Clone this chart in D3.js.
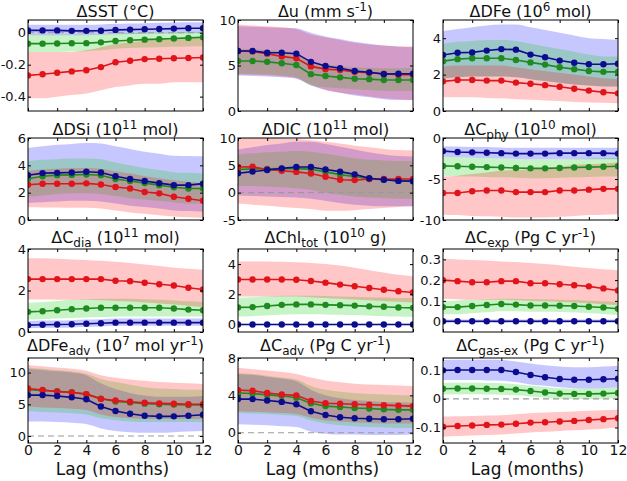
<!DOCTYPE html>
<html><head><meta charset="utf-8">
<script src="https://cdn.jsdelivr.net/npm/d3@7/dist/d3.min.js"></script>
<style>body{margin:0;background:#fff}svg{display:block;font-family:"DejaVu Sans",sans-serif}</style>
</head><body><svg id="c" width="627" height="481"></svg>
<script>
const lags = [0,1,2,3,4,5,6,7,8,9,10,11,12];
const xTicks = [0,2,4,6,8,10,12];

// ---- Panel 1: dSST
const sstB   = [0.015,0.015,0.015,0.012,0.012,0.013,0.018,0.02,0.022,0.024,0.026,0.028,0.028];
const sstBlo = [-0.015,-0.015,-0.015,-0.015,-0.015,-0.013,-0.01,-0.008,-0.006,-0.005,-0.004,-0.003,-0.003];
const sstBhi = [0.05,0.05,0.05,0.05,0.05,0.052,0.056,0.058,0.06,0.062,0.064,0.066,0.066];
const sstG   = [-0.068,-0.068,-0.067,-0.066,-0.065,-0.06,-0.052,-0.047,-0.043,-0.04,-0.036,-0.032,-0.028];
const sstGlo = [-0.12,-0.12,-0.12,-0.118,-0.116,-0.11,-0.1,-0.096,-0.093,-0.09,-0.088,-0.086,-0.085];
const sstGhi = [-0.012,-0.012,-0.012,-0.012,-0.012,-0.01,-0.005,-0.002,0,0.002,0.004,0.006,0.008];
const sstR   = [-0.267,-0.26,-0.25,-0.242,-0.235,-0.215,-0.185,-0.175,-0.165,-0.163,-0.16,-0.158,-0.155];
const sstRlo = [-0.41,-0.41,-0.40,-0.39,-0.38,-0.36,-0.34,-0.33,-0.32,-0.32,-0.31,-0.31,-0.31];
const sstRhi = [-0.12,-0.12,-0.12,-0.12,-0.11,-0.09,-0.07,-0.06,-0.05,-0.045,-0.04,-0.035,-0.03];

// ---- Panel 2: du
const uB   = [6.6,6.6,6.4,6.4,6.3,5.4,4.95,4.7,4.4,4.25,4.05,4.1,4.1];
const uBlo = [3.9,3.85,3.8,3.7,3.55,2.8,2.3,2.0,1.7,1.5,1.3,1.2,1.2];
const uBhi = [9.3,9.25,9.2,9.15,9.1,8.6,8.2,7.9,7.6,7.4,7.2,7.1,7.0];
const uG   = [5.5,5.5,5.4,5.25,5.05,4.05,3.85,3.7,3.55,3.5,3.4,3.4,3.4];
const uGlo = [4.1,4.1,4.0,3.9,3.7,2.8,2.6,2.5,2.4,2.3,2.2,2.2,2.2];
const uGhi = [6.8,6.8,6.7,6.6,6.4,5.4,5.1,4.95,4.8,4.75,4.7,4.7,4.7];
const uR   = [6.6,6.55,6.3,6.0,5.8,4.9,4.6,4.5,4.3,4.2,4.1,4.0,4.0];
const uRlo = [4.0,3.95,3.9,3.8,3.6,2.9,2.3,2.0,1.8,1.6,1.4,1.3,1.2];
const uRhi = [9.5,9.4,9.3,9.2,9.0,8.4,8.1,7.8,7.5,7.3,7.2,7.1,7.1];

// ---- Panel 3: dDFe
const dfeB   = [3.08,3.2,3.22,3.32,3.4,3.37,3.1,2.95,2.77,2.65,2.57,2.57,2.6];
const dfeBlo = [1.8,1.85,1.9,1.9,1.9,1.85,1.75,1.65,1.55,1.45,1.4,1.35,1.35];
const dfeBhi = [4.4,4.5,4.6,4.7,4.75,4.75,4.6,4.45,4.3,4.15,4.0,3.95,3.9];
const dfeG   = [2.74,2.85,2.9,2.9,2.9,2.8,2.67,2.55,2.4,2.3,2.2,2.15,2.15];
const dfeGlo = [1.75,1.85,1.9,1.9,1.9,1.85,1.75,1.65,1.55,1.45,1.4,1.35,1.35];
const dfeGhi = [3.7,3.8,3.85,3.9,3.9,3.85,3.7,3.55,3.4,3.25,3.1,3.0,3.0];
const dfeR   = [1.63,1.7,1.7,1.67,1.67,1.56,1.5,1.42,1.33,1.22,1.12,1.03,0.97];
const dfeRlo = [0.75,0.75,0.75,0.72,0.7,0.65,0.62,0.58,0.55,0.5,0.47,0.45,0.42];
const dfeRhi = [2.45,2.5,2.5,2.5,2.5,2.4,2.3,2.2,2.1,2.0,1.9,1.8,1.75];

// ---- Panel 4: dDSi
const dsiB   = [3.27,3.43,3.45,3.48,3.53,3.48,3.2,3.0,2.85,2.7,2.55,2.55,2.66];
const dsiBlo = [1.25,1.3,1.35,1.4,1.4,1.35,1.2,1.05,0.95,0.85,0.7,0.65,0.6];
const dsiBhi = [5.27,5.4,5.5,5.57,5.63,5.6,5.4,5.2,5.0,4.85,4.7,4.68,4.66];
const dsiG   = [3.02,3.2,3.28,3.3,3.33,3.28,3.0,2.85,2.7,2.55,2.4,2.3,2.3];
const dsiGlo = [1.7,1.8,1.9,1.95,1.95,1.9,1.75,1.6,1.5,1.4,1.3,1.2,1.2];
const dsiGhi = [4.3,4.4,4.45,4.5,4.5,4.45,4.2,4.0,3.8,3.65,3.5,3.45,3.4];
const dsiR   = [2.58,2.65,2.65,2.65,2.68,2.6,2.41,2.3,2.05,1.95,1.7,1.55,1.41];
const dsiRlo = [0.93,0.92,0.92,0.9,0.9,0.85,0.7,0.55,0.45,0.35,0.25,0.2,0.15];
const dsiRhi = [3.6,3.7,3.75,3.8,3.8,3.75,3.55,3.4,3.2,3.05,2.9,2.8,2.7];

// ---- Panel 5: dDIC
const dicB   = [3.55,3.85,4.15,4.45,4.7,4.7,4.25,3.85,3.35,2.65,2.35,2.15,2.1];
const dicBlo = [-0.5,-0.6,-0.7,-0.8,-0.9,-1.1,-1.5,-1.9,-2.2,-2.4,-2.5,-2.5,-2.5];
const dicBhi = [7.9,8.3,8.7,9.0,9.3,9.3,8.9,8.4,7.9,7.4,7.0,6.7,6.6];
const dicG   = [4.25,4.35,4.35,4.4,4.4,4.3,3.8,3.3,2.95,2.55,2.35,2.2,2.2];
const dicGlo = [1.2,1.2,1.1,1.0,0.8,0.5,0.0,-0.4,-0.7,-0.9,-1.0,-1.1,-1.1];
const dicGhi = [7.0,7.2,7.4,7.5,7.6,7.5,7.1,6.7,6.3,6.0,5.9,5.8,5.8];
const dicR   = [4.7,4.75,4.25,4.0,3.8,3.5,2.9,2.35,2.3,2.5,2.5,2.5,2.5];
const dicRlo = [-2.0,-2.2,-2.4,-2.6,-2.8,-3.0,-3.3,-3.3,-3.2,-3.0,-2.8,-2.6,-2.5];
const dicRhi = [10,10,10,9.9,9.8,9.6,9.3,9.0,8.6,8.3,8.0,7.8,7.75];

// ---- Panel 6: dC_phy
const phyB   = [-1.6,-1.7,-1.75,-1.8,-1.85,-1.9,-1.9,-1.9,-1.85,-1.85,-1.85,-1.85,-1.9];
const phyBlo = [-2.3,-2.35,-2.4,-2.45,-2.5,-2.55,-2.6,-2.6,-2.6,-2.6,-2.6,-2.6,-2.6];
const phyBhi = [-1.0,-1.05,-1.1,-1.1,-1.15,-1.2,-1.2,-1.2,-1.2,-1.2,-1.2,-1.2,-1.2];
const phyG   = [-3.4,-3.45,-3.5,-3.55,-3.6,-3.65,-3.7,-3.7,-3.65,-3.6,-3.55,-3.5,-3.45];
const phyGlo = [-4.6,-4.65,-4.7,-4.75,-4.8,-4.85,-4.9,-4.9,-4.85,-4.8,-4.75,-4.7,-4.65];
const phyGhi = [-2.3,-2.35,-2.4,-2.45,-2.5,-2.55,-2.6,-2.6,-2.6,-2.55,-2.5,-2.45,-2.4];
const phyR   = [-6.7,-6.7,-6.5,-6.4,-6.4,-6.6,-6.6,-6.6,-6.4,-6.4,-6.3,-6.2,-6.2];
const phyRlo = [-9.35,-9.4,-9.5,-9.55,-9.6,-9.7,-9.7,-9.7,-9.6,-9.5,-9.4,-9.35,-9.3];
const phyRhi = [-4.7,-4.6,-4.4,-4.2,-4.0,-3.9,-3.8,-3.7,-3.5,-3.3,-3.2,-3.1,-3.0];

// ---- Panel 7: dC_dia
const diaB   = [0.33,0.35,0.36,0.37,0.4,0.42,0.45,0.45,0.45,0.45,0.45,0.45,0.45];
const diaBlo = [0.18,0.2,0.21,0.22,0.25,0.27,0.3,0.3,0.3,0.3,0.3,0.3,0.3];
const diaBhi = [0.53,0.55,0.56,0.57,0.6,0.62,0.65,0.65,0.65,0.65,0.65,0.65,0.65];
const diaG   = [0.97,1.0,1.05,1.1,1.13,1.17,1.17,1.17,1.17,1.17,1.13,1.08,1.05];
const diaGlo = [0.6,0.62,0.65,0.68,0.7,0.72,0.74,0.75,0.75,0.75,0.75,0.75,0.75];
const diaGhi = [1.4,1.45,1.5,1.55,1.58,1.6,1.6,1.6,1.58,1.55,1.52,1.48,1.45];
const diaR   = [2.55,2.55,2.55,2.55,2.55,2.55,2.47,2.45,2.37,2.3,2.24,2.13,2.05];
const diaRlo = [1.57,1.57,1.56,1.55,1.55,1.53,1.5,1.47,1.42,1.37,1.32,1.27,1.2];
const diaRhi = [3.56,3.55,3.53,3.5,3.47,3.43,3.38,3.32,3.25,3.18,3.1,3.05,3.0];

// ---- Panel 8: dChl_tot
const chlB   = [0,0,0,0,0,0,0,0,0,0,0,0,0];
const chlBlo = [-0.05,-0.05,-0.05,-0.05,-0.05,-0.05,-0.05,-0.05,-0.05,-0.05,-0.05,-0.05,-0.05];
const chlBhi = [0.05,0.05,0.05,0.05,0.05,0.05,0.05,0.05,0.05,0.05,0.05,0.05,0.05];
const chlG   = [1.13,1.15,1.22,1.3,1.33,1.33,1.3,1.28,1.25,1.2,1.17,1.12,1.1];
const chlGlo = [0.52,0.55,0.6,0.65,0.68,0.68,0.66,0.64,0.62,0.58,0.55,0.52,0.5];
const chlGhi = [1.77,1.8,1.85,1.9,1.9,1.9,1.88,1.86,1.83,1.8,1.78,1.76,1.75];
const chlR   = [2.98,2.98,2.98,2.98,2.96,2.88,2.77,2.64,2.53,2.42,2.3,2.2,2.12];
const chlRlo = [1.85,1.85,1.85,1.85,1.85,1.8,1.75,1.7,1.65,1.6,1.55,1.5,1.45];
const chlRhi = [4.18,4.18,4.17,4.15,4.12,4.08,4.0,3.9,3.75,3.6,3.45,3.3,3.2];

// ---- Panel 9: dC_exp
const expB   = [0.002,0.002,0.002,0.002,0.002,0.002,0.002,0.002,0.002,0.002,0.002,0.002,0.002];
const expBlo = [-0.006,-0.006,-0.006,-0.006,-0.006,-0.006,-0.006,-0.006,-0.006,-0.006,-0.006,-0.006,-0.006];
const expBhi = [0.01,0.01,0.01,0.01,0.01,0.01,0.01,0.01,0.01,0.01,0.01,0.01,0.01];
const expG   = [0.07,0.07,0.075,0.08,0.085,0.082,0.078,0.078,0.077,0.075,0.072,0.068,0.062];
const expGlo = [0.035,0.036,0.04,0.045,0.05,0.05,0.048,0.047,0.046,0.044,0.041,0.037,0.032];
const expGhi = [0.1,0.102,0.105,0.108,0.11,0.11,0.108,0.107,0.106,0.104,0.101,0.098,0.095];
const expR   = [0.2,0.195,0.19,0.19,0.195,0.195,0.185,0.185,0.18,0.175,0.17,0.16,0.15];
const expRlo = [0.11,0.108,0.105,0.105,0.105,0.103,0.1,0.098,0.095,0.092,0.088,0.084,0.08];
const expRhi = [0.304,0.3,0.297,0.294,0.29,0.287,0.283,0.278,0.272,0.265,0.258,0.252,0.247];

// ---- Panel 10: dDFe_adv
const fadvB   = [6.45,6.45,6.3,6.1,5.8,4.65,3.95,3.5,3.2,3.1,3.1,3.2,3.35];
const fadvBlo = [2.3,2.3,2.2,2.1,1.9,1.2,0.8,0.6,0.5,0.5,0.6,0.7,0.8];
const fadvBhi = [10.6,10.4,10.2,10.0,9.6,8.3,7.4,6.8,6.4,6.2,6.2,6.2,6.3];
const fadvG   = [7.3,7.2,7.05,6.9,6.6,5.9,5.45,5.3,5.1,5.0,4.95,4.9,4.9];
const fadvGlo = [3.9,3.8,3.7,3.6,3.4,2.8,2.5,2.3,2.2,2.2,2.2,2.2,2.2];
const fadvGhi = [10.8,10.6,10.4,10.2,9.8,9.0,8.5,8.1,7.7,7.5,7.4,7.3,7.3];
const fadvR   = [7.5,7.25,7.0,6.85,6.6,5.85,5.6,5.4,5.25,5.15,5.1,5.0,5.0];
const fadvRlo = [4.6,4.5,4.4,4.3,4.1,3.4,3.0,2.8,2.7,2.7,2.7,2.7,2.7];
const fadvRhi = [11.2,11.0,10.8,10.6,10.3,9.6,9.2,8.9,8.7,8.5,8.4,8.3,8.2];

// ---- Panel 11: dC_adv
const cadvB   = [3.6,3.6,3.45,3.3,3.05,2.3,1.9,1.65,1.55,1.5,1.45,1.45,1.5];
const cadvBlo = [0.9,0.85,0.8,0.7,0.6,0.1,-0.1,-0.2,-0.2,-0.25,-0.25,-0.25,-0.2];
const cadvBhi = [6.3,6.2,6.0,5.8,5.5,4.6,4.0,3.7,3.5,3.4,3.3,3.25,3.2];
const cadvG   = [4.25,4.2,4.05,3.95,3.75,3.15,2.85,2.75,2.65,2.6,2.5,2.45,2.45];
const cadvGlo = [2.1,2.05,2.0,1.9,1.8,1.3,1.0,0.8,0.7,0.6,0.55,0.5,0.5];
const cadvGhi = [6.4,6.3,6.1,5.9,5.7,5.0,4.6,4.4,4.25,4.15,4.1,4.05,4.0];
const cadvR   = [4.56,4.5,4.25,4.1,4.0,3.4,3.15,3.1,3.05,3.0,2.95,2.9,2.85];
const cadvRlo = [2.3,2.25,2.2,2.1,2.0,1.6,1.3,1.2,1.1,1.05,1.0,1.0,1.0];
const cadvRhi = [6.95,6.8,6.65,6.5,6.3,5.9,5.6,5.4,5.25,5.15,5.1,5.05,5.0];

// ---- Panel 12: dC_gas-ex
const gasB   = [0.099,0.1,0.1,0.1,0.1,0.093,0.083,0.075,0.069,0.066,0.066,0.068,0.07];
const gasBlo = [0.065,0.065,0.065,0.064,0.063,0.058,0.05,0.045,0.04,0.037,0.036,0.037,0.04];
const gasBhi = [0.135,0.136,0.136,0.136,0.135,0.13,0.123,0.117,0.112,0.11,0.11,0.112,0.115];
const gasG   = [0.035,0.036,0.036,0.035,0.034,0.032,0.027,0.022,0.018,0.017,0.017,0.018,0.02];
const gasGlo = [0.015,0.016,0.016,0.015,0.014,0.012,0.008,0.004,0.0,-0.001,-0.001,0.0,0.002];
const gasGhi = [0.055,0.056,0.056,0.055,0.054,0.051,0.046,0.041,0.037,0.036,0.036,0.037,0.04];
const gasR   = [-0.097,-0.095,-0.093,-0.091,-0.09,-0.087,-0.083,-0.082,-0.079,-0.077,-0.074,-0.071,-0.068];
const gasRlo = [-0.132,-0.13,-0.128,-0.126,-0.124,-0.121,-0.117,-0.115,-0.112,-0.11,-0.107,-0.104,-0.1];
const gasRhi = [-0.062,-0.061,-0.06,-0.058,-0.057,-0.054,-0.05,-0.048,-0.046,-0.044,-0.042,-0.04,-0.038];

const titles = [
  "ΔSST (°C)", "Δu (mm s^{-1})", "ΔDFe (10^{6} mol)",
  "ΔDSi (10^{11} mol)", "ΔDIC (10^{11} mol)", "ΔC_{phy} (10^{10} mol)",
  "ΔC_{dia} (10^{11} mol)", "ΔChl_{tot} (10^{10} g)", "ΔC_{exp} (Pg C yr^{-1})",
  "ΔDFe_{adv} (10^{7} mol yr^{-1})", "ΔC_{adv} (Pg C yr^{-1})", "ΔC_{gas-ex} (Pg C yr^{-1})"
];
const yDomains = [[-0.49,0.08],[0,10],[0,5],[0,6],[-5,10],[-10,0],[0,4],[-0.5,5],[-0.05,0.35],[-1.1,12.3],[-1.1,8],[-0.154,0.142]];
const yTicks = [[-0.4,-0.2,0],[0,5,10],[0,2,4],[0,2,4,6],[-5,0,5,10],[-10,-5,0],[0,2,4],[0,2,4],[0,0.1,0.2,0.3],[0,5,10],[0,4,8],[-0.1,0,0.1]];
const zeroLine = [true,false,false,false,true,false,false,false,true,true,true,true];

const seriesSets = [
  [sstB,sstBlo,sstBhi,sstG,sstGlo,sstGhi,sstR,sstRlo,sstRhi],
  [uB,uBlo,uBhi,uG,uGlo,uGhi,uR,uRlo,uRhi],
  [dfeB,dfeBlo,dfeBhi,dfeG,dfeGlo,dfeGhi,dfeR,dfeRlo,dfeRhi],
  [dsiB,dsiBlo,dsiBhi,dsiG,dsiGlo,dsiGhi,dsiR,dsiRlo,dsiRhi],
  [dicB,dicBlo,dicBhi,dicG,dicGlo,dicGhi,dicR,dicRlo,dicRhi],
  [phyB,phyBlo,phyBhi,phyG,phyGlo,phyGhi,phyR,phyRlo,phyRhi],
  [diaB,diaBlo,diaBhi,diaG,diaGlo,diaGhi,diaR,diaRlo,diaRhi],
  [chlB,chlBlo,chlBhi,chlG,chlGlo,chlGhi,chlR,chlRlo,chlRhi],
  [expB,expBlo,expBhi,expG,expGlo,expGhi,expR,expRlo,expRhi],
  [fadvB,fadvBlo,fadvBhi,fadvG,fadvGlo,fadvGhi,fadvR,fadvRlo,fadvRhi],
  [cadvB,cadvBlo,cadvBhi,cadvG,cadvGlo,cadvGhi,cadvR,cadvRlo,cadvRhi],
  [gasB,gasBlo,gasBhi,gasG,gasGlo,gasGhi,gasR,gasRlo,gasRhi]
];

// layout
const colX = [28, 238, 443];
const panelW = 175;
const rowY = [[20,111],[138,220],[249,332],[358,443]];
const titleGap = [3.5, 3.5, 6, 7];

const bandColor = {b:"#0000ff", g:"#00cc00", r:"#ff0000"};
const lineColor = {b:"#0c0c8e", g:"#1f8a1f", r:"#e0141a"};

const svg = d3.select("#c");

function drawTitle(g, str, x, y) {
  const parts = str.split(/(_\{[^}]*\}|\^\{[^}]*\})/).filter(s => s.length);
  const t = g.append("text").attr("x", x).attr("y", y).attr("text-anchor", "middle")
    .attr("font-size", 16).attr("fill", "#111");
  let shift = 0;
  parts.forEach(p => {
    let target = 0, fs = 16, s = p;
    if (p.startsWith("_{")) { target = 4; fs = 12; s = p.slice(2, -1); }
    else if (p.startsWith("^{")) { target = -6; fs = 12; s = p.slice(2, -1); }
    t.append("tspan").attr("dy", target - shift).attr("font-size", fs).text(s);
    shift = target;
  });
}

function fmt(v) {
  if (v === 0) return "0";
  return String(v);
}

seriesSets.forEach((S, i) => {
  const col = i % 3, row = Math.floor(i / 3);
  const x0 = colX[col], x1 = x0 + panelW;
  const [y0, y1] = rowY[row];
  const x = d3.scaleLinear().domain([0, 12]).range([x0, x1]);
  const y = d3.scaleLinear().domain(yDomains[i]).range([y1, y0]);
  const g = svg.append("g");
  const clipId = "clip" + i;
  g.append("clipPath").attr("id", clipId).append("rect")
    .attr("x", x0).attr("y", y0).attr("width", x1 - x0).attr("height", y1 - y0);
  const plot = g.append("g").attr("clip-path", `url(#${clipId})`);

  const [B, Blo, Bhi, G, Glo, Ghi, R, Rlo, Rhi] = S;
  const bands = [["b", Blo, Bhi], ["g", Glo, Ghi], ["r", Rlo, Rhi]];
  bands.forEach(([k, lo, hi]) => {
    const area = d3.area().curve(d3.curveMonotoneX)
      .x((d, j) => x(lags[j])).y0((d, j) => y(lo[j])).y1((d, j) => y(hi[j]));
    plot.append("path").datum(lags).attr("d", area)
      .attr("fill", bandColor[k]).attr("fill-opacity", 0.22).attr("stroke", "none");
  });

  if (zeroLine[i]) {
    plot.append("line").attr("x1", x0).attr("x2", x1).attr("y1", y(0)).attr("y2", y(0))
      .attr("stroke", "#9a9a9a").attr("stroke-width", 1.2).attr("stroke-dasharray", "6,4");
  }

  const lines = [["g", G], ["r", R], ["b", B]];
  lines.forEach(([k, vals]) => {
    const line = d3.line().x((d, j) => x(lags[j])).y((d, j) => y(vals[j]));
    plot.append("path").datum(vals).attr("d", line).attr("fill", "none")
      .attr("stroke", lineColor[k]).attr("stroke-width", 1.6);
    plot.selectAll(null).data(vals).enter().append("circle")
      .attr("cx", (d, j) => x(lags[j])).attr("cy", d => y(d)).attr("r", 3.2)
      .attr("fill", lineColor[k]);
  });

  // box
  g.append("rect").attr("x", x0).attr("y", y0).attr("width", x1 - x0).attr("height", y1 - y0)
    .attr("fill", "none").attr("stroke", "#000").attr("stroke-width", 1);

  // y axis (left ticks inside + right ticks inside)
  const yl = g.append("g").attr("transform", `translate(${x0},0)`)
    .call(d3.axisRight(y).tickValues(yTicks[i]).tickSize(3).tickFormat(""));
  yl.select(".domain").remove();
  const yr = g.append("g").attr("transform", `translate(${x1},0)`)
    .call(d3.axisLeft(y).tickValues(yTicks[i]).tickSize(3).tickFormat(""));
  yr.select(".domain").remove();
  const ylab = g.append("g").attr("transform", `translate(${x0},0)`)
    .call(d3.axisLeft(y).tickValues(yTicks[i]).tickSize(0).tickPadding(2).tickFormat(fmt));
  ylab.select(".domain").remove();
  ylab.selectAll("text").attr("font-size", 13).attr("font-family", "DejaVu Sans").attr("fill", "#111");

  // x ticks
  const xb = g.append("g").attr("transform", `translate(0,${y1})`)
    .call(d3.axisTop(x).tickValues(xTicks).tickSize(3).tickFormat(""));
  xb.select(".domain").remove();
  const xt = g.append("g").attr("transform", `translate(0,${y0})`)
    .call(d3.axisBottom(x).tickValues(xTicks).tickSize(3).tickFormat(""));
  xt.select(".domain").remove();
  if (row === 3) {
    const xl = g.append("g").attr("transform", `translate(0,${y1})`)
      .call(d3.axisBottom(x).tickValues(xTicks).tickSize(0).tickPadding(2).tickFormat(d => String(d)));
    xl.select(".domain").remove();
    xl.selectAll("text").attr("font-size", 14).attr("font-family", "DejaVu Sans").attr("fill", "#111");
    g.append("text").attr("x", (x0 + x1) / 2 - 3).attr("y", 475).attr("text-anchor", "middle")
      .attr("font-size", 17).attr("fill", "#111").text("Lag (months)");
  }

  drawTitle(g, titles[i], (x0 + x1) / 2, y0 - titleGap[row]);
});
</script>
</body></html>
